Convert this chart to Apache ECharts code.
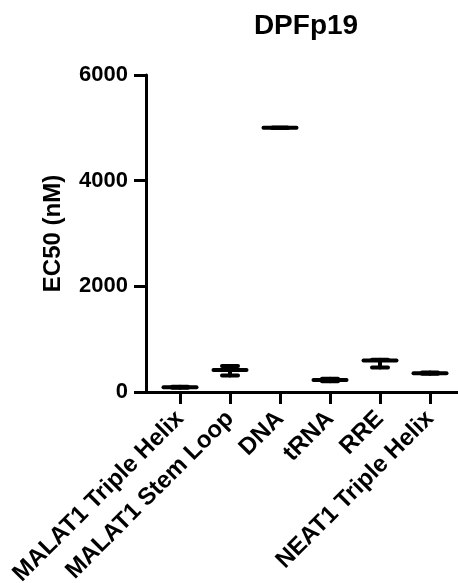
<!DOCTYPE html>
<html>
<head>
<meta charset="utf-8">
<script src="https://cdn.jsdelivr.net/npm/echarts@6/dist/echarts.min.js"></script>
<style>
  html, body { margin: 0; padding: 0; background: #fff; }
  #chart { width: 458px; height: 583px; }
</style>
</head>
<body>
<div id="chart"></div>
<script>
// EC50 of DPFp19 against each nucleic acid target (mean with error bar, nM)
var categories = ['MALAT1 Triple Helix', 'MALAT1 Stem Loop', 'DNA', 'tRNA', 'RRE', 'NEAT1 Triple Helix'];
var meanValues = [90, 415, 5000, 228, 594, 357];
var lowerValues = [82, 311, 5000, 202, 462, 347];
var upperValues = [98, 494, 5000, 251, 610, 368];
var yTicks = [0, 2000, 4000, 6000];

var FONT = '"Liberation Sans", Arial, Helvetica, sans-serif';
var positions = categories.map(function (c, i) { return i; });

var chart = echarts.init(document.getElementById('chart'), null, { renderer: 'canvas' });

var seriesData = categories.map(function (c, i) {
  return [i, meanValues[i], lowerValues[i], upperValues[i]];
});

chart.setOption({
  animation: false,
  backgroundColor: '#ffffff',
  title: {
    text: 'DPFp19',
    left: 306,
    top: 12,
    padding: 0,
    textAlign: 'center',
    textStyle: { fontFamily: FONT, fontWeight: 'bold', fontSize: 28, color: '#000' }
  },
  grid: {
    left: 146, right: 0, top: 75, bottom: 191,
    containLabel: false,
    outerBoundsMode: 'none'
  },
  xAxis: {
    type: 'value',
    min: -0.68,
    max: 5.56,
    splitLine: { show: false },
    axisLine: { show: true, onZero: false, lineStyle: { color: '#000', width: 3 } },
    axisTick: {
      show: true, length: 12, customValues: positions,
      lineStyle: { color: '#000', width: 3 }
    },
    axisLabel: {
      customValues: positions,
      rotate: 45,
      margin: 23,
      fontFamily: FONT,
      fontWeight: 'bold',
      fontSize: 24,
      color: '#000',
      formatter: function (v) { return categories[Math.round(v)]; }
    }
  },
  yAxis: {
    type: 'value',
    min: 0,
    max: 6000,
    interval: 2000,
    name: 'EC50 (nM)',
    nameLocation: 'middle',
    nameGap: 81,
    nameTextStyle: { fontFamily: FONT, fontWeight: 'bold', fontSize: 24, color: '#000' },
    splitLine: { show: false },
    axisLine: { show: true, onZero: false, lineStyle: { color: '#000', width: 3 } },
    axisTick: { show: true, length: 12, lineStyle: { color: '#000', width: 3 } },
    axisLabel: {
      margin: 18,
      fontFamily: FONT,
      fontWeight: 'bold',
      fontSize: 22,
      color: '#000',
      formatter: function (v) { return yTicks.indexOf(v) >= 0 ? String(v) : ''; }
    }
  },
  series: [{
    type: 'custom',
    data: seriesData,
    encode: { x: 0, y: [1, 2, 3] },
    clip: false,
    renderItem: function (params, api) {
      var x = api.value(0);
      var mean = api.coord([x, api.value(1)]);
      var low = api.coord([x, api.value(2)]);
      var high = api.coord([x, api.value(3)]);
      var meanHalf = 16.5;
      var capHalf = 8;
      var style = { stroke: '#000', lineWidth: 4, lineCap: 'round', fill: null };
      return {
        type: 'group',
        children: [
          { type: 'line', shape: { x1: mean[0], y1: high[1], x2: mean[0], y2: low[1] }, style: style },
          { type: 'line', shape: { x1: mean[0] - capHalf, y1: high[1], x2: mean[0] + capHalf, y2: high[1] }, style: style },
          { type: 'line', shape: { x1: mean[0] - capHalf, y1: low[1], x2: mean[0] + capHalf, y2: low[1] }, style: style },
          { type: 'line', shape: { x1: mean[0] - meanHalf, y1: mean[1], x2: mean[0] + meanHalf, y2: mean[1] }, style: style }
        ]
      };
    }
  }]
});
</script>
</body>
</html>
